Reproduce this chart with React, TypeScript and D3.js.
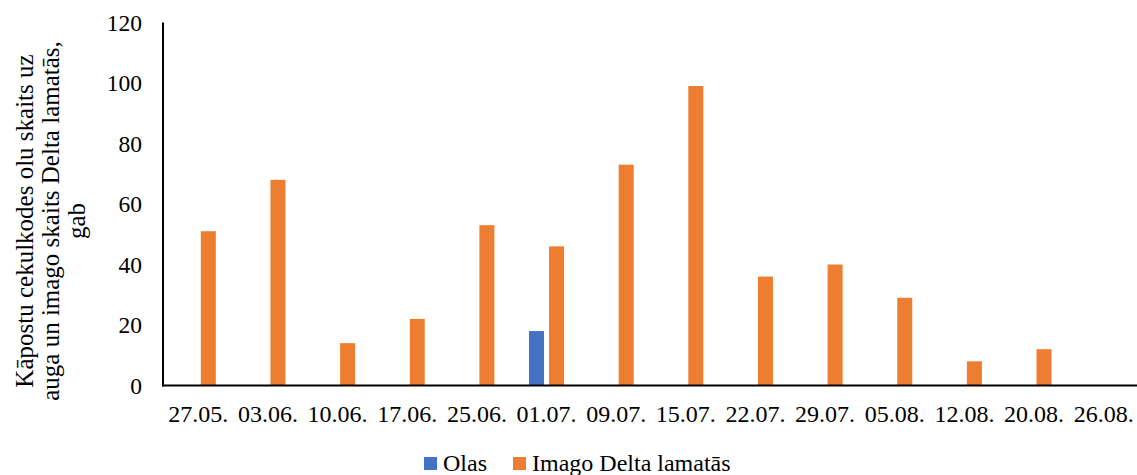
import React from "react";
import * as d3 from "d3";

const categories = ["27.05.", "03.06.", "10.06.", "17.06.", "25.06.", "01.07.", "09.07.", "15.07.", "22.07.", "29.07.", "05.08.", "12.08.", "20.08.", "26.08."];
const olas = [0, 0, 0, 0, 0, 18, 0, 0, 0, 0, 0, 0, 0, 0];
const imago = [51, 68, 14, 22, 53, 46, 73, 99, 36, 40, 29, 8, 12, 0];
const seriesNames = ["Olas", "Imago Delta lamatās"];
const seriesColors = ["#4472C4", "#ED7D31"];
const yTicks = [0, 20, 40, 60, 80, 100, 120];
const yTitleLines = ["Kāpostu cekulkodes olu skaits uz", "auga un imago skaits Delta lamatās,", "gab"];

const W = 1137;
const H = 475;
const FONT = "Liberation Serif";
const ts = { fontFamily: FONT };

export default function App() {
  const x = d3.scaleBand<string>().domain(categories).range([163.5, 1138.5]).paddingInner(0).paddingOuter(0);
  const y = d3.scaleLinear().domain([0, 120]).range([385.5, 22.5]);
  const bw = x.bandwidth();
  const xi = d3.scaleBand<string>().domain(seriesNames).range([bw / 2 - 17.5, bw / 2 + 17.5]).paddingInner(0.25).paddingOuter(0);
  const data = [olas, imago];

  return (
    <svg width={W} height={H} style={{ position: "absolute", left: 0, top: 0, background: "#fff" }}>
      {data.map((vals, si) =>
        vals.map((v, i) =>
          v > 0 ? (
            <rect
              key={`${si}-${i}`}
              x={(x(categories[i]) ?? 0) + (xi(seriesNames[si]) ?? 0)}
              y={y(v)}
              width={xi.bandwidth()}
              height={y(0) - y(v)}
              fill={seriesColors[si]}
            />
          ) : null
        )
      )}
      <line x1={163} x2={163} y1={y(120)} y2={y(0) + 1} stroke="#000" strokeWidth={2} />
      <line x1={162} x2={W} y1={y(0)} y2={y(0)} stroke="#000" strokeWidth={2} />
      {yTicks.map((t) => (
        <text key={t} x={142} y={y(t)} dy="0.35em" textAnchor="end" fontSize={23.5} fill="#000" style={ts}>
          {t}
        </text>
      ))}
      {categories.map((c) => (
        <text key={c} x={(x(c) ?? 0) + bw / 2} y={421.5} textAnchor="middle" fontSize={24} fill="#000" style={ts}>
          {c}
        </text>
      ))}
      <g transform="translate(0,221) rotate(-90)">
        {yTitleLines.map((l, i) => (
          <text key={i} x={0} y={33 + i * 26} textAnchor="middle" fontSize={25} fill="#000" style={ts}>
            {l}
          </text>
        ))}
      </g>
      <g>
        <rect x={424} y={457} width={13} height={13} fill={seriesColors[0]} />
        <text x={443} y={471} fontSize={24} fill="#000" style={ts}>{seriesNames[0]}</text>
        <rect x={513} y={457} width={13} height={13} fill={seriesColors[1]} />
        <text x={532} y={471} fontSize={24} fill="#000" style={ts}>{seriesNames[1]}</text>
      </g>
    </svg>
  );
}
